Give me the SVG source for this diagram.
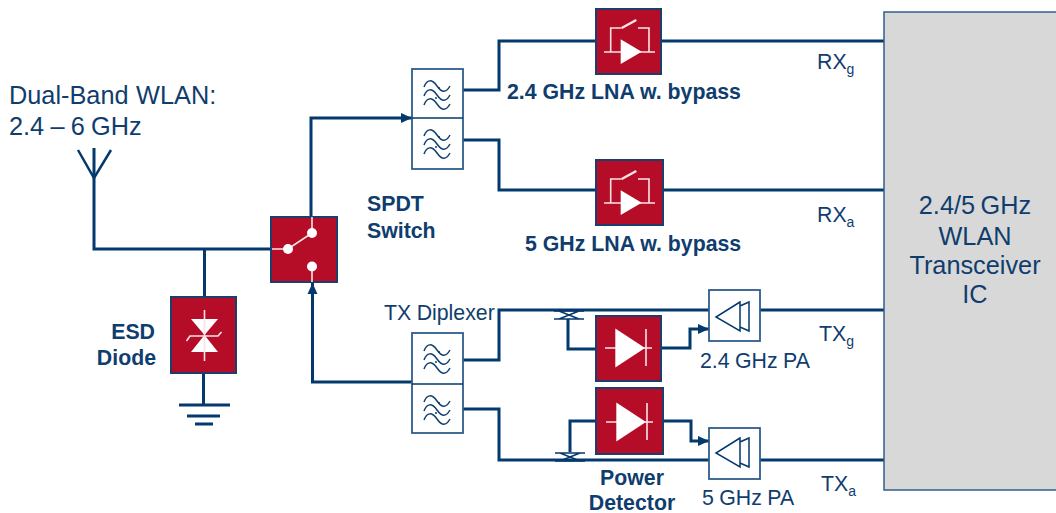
<svg xmlns="http://www.w3.org/2000/svg" width="1056" height="513" viewBox="0 0 1056 513">
<defs>
<style>
text{font-family:"Liberation Sans",Arial,sans-serif;fill:#0f3d6e}
.b{font-weight:700;font-size:21.300px}
.r{font-size:21.300px;word-spacing:-0.500px}
.h{font-size:25.300px;word-spacing:-1.500px}
.w{fill:none;stroke:#03396c;stroke-width:3}
.ant{fill:none;stroke:#03396c;stroke-width:2.500}
.t{fill:none;stroke:#03396c;stroke-width:1.500}
.red{fill:#b50d28;stroke:#1d3d6d;stroke-width:2}
.box{fill:#fff;stroke:#2f5d8c;stroke-width:1.800}
.wl{fill:none;stroke:#f8e4e6;stroke-width:1.600}
.sw{fill:none;stroke:#f8e4e6;stroke-width:2.500}
.wave{fill:none;stroke:#0f3d6e;stroke-width:1.500}
</style>
<marker id="arr" markerUnits="userSpaceOnUse" markerWidth="12" markerHeight="12" refX="11" refY="6" orient="auto"><path d="M0 1 L11 6 L0 11Z" fill="#03396c"/></marker>
<g id="waves"><path class="wave" d="M0 7C3-1 8-1 13 6S22 13 26 6"/><path class="wave" d="M0 16C3 8 8 8 13 15S22 22 26 15"/><path class="wave" d="M0 25C3 17 8 17 13 24S22 31 26 24"/><circle cx="15" cy="8" r="1" fill="#0f3d6e"/><circle cx="12" cy="18" r="1" fill="#0f3d6e"/></g>
<g id="lnaSym"><path class="wl" d="M4 52H55M10.700 52V28H21.700M38 28H49V52"/><path d="M20.700 39.300L41.700 51.700L20.700 64Z" fill="#fff"/><path class="sw" d="M21.700 28L36.300 20"/></g>
<g id="detSym"><path class="wl" d="M9 0H56M50-19V18"/><path d="M19.300-19.500L49 0L19.300 19.500Z" fill="#fff"/></g>
<g id="paSym"><path class="t" d="M31 12L7 27L31 41ZM31 16L40 12V41L31 37"/></g>
<path id="coupler" class="t" d="M-15 0H15M-15 8H15M-10 0L10 8M10 0L-10 8"/>
</defs>
<g id="connectors">
<path class="w" d="M94 148V249H271M204.500 249V297M203.500 373V405"/>
<path class="ant" d="M78 150L94 178L111 150"/>
<path class="w" d="M311 217V118H412" marker-end="url(#arr)"/>
<path class="w" d="M412 382H312.500V283" marker-end="url(#arr)"/>
<path class="w" d="M463 90H499V41H596M463 140H499V190H596M661 41H884M663 190H884"/>
<path class="w" d="M463 360H499V310H709M760 310H884M463 409H499V460H709M760 460H884"/>
<path class="w" d="M568 319V349H596M596 421H570V452"/>
<path class="w" d="M661 348H690V329H709" marker-end="url(#arr)"/>
<path class="w" d="M663 421H691V441H709" marker-end="url(#arr)"/>
</g>
<g id="ground"><path class="w" d="M179 405H230M187 416H220M195 424H213"/></g>
<g id="coupler1"><use href="#coupler" x="569" y="311"/></g>
<g id="coupler2"><use href="#coupler" x="570" y="453"/></g>
<g id="ic"><rect x="884" y="12" width="173" height="478" fill="#d8d8d8" stroke="#2f5d8c" stroke-width="1.500"/>
<g text-anchor="middle"><text class="h" x="975" y="214">2.4/5 GHz</text><text class="h" x="975" y="245">WLAN</text><text class="h" x="975" y="274">Transceiver</text><text class="h" x="975" y="303">IC</text></g></g>
<g id="switch"><rect class="red" x="271" y="217" width="66" height="65"/><path class="wl" d="M272 249H288L312 233V217M312 266V282"/><circle cx="288" cy="249" r="5" fill="#fff"/><circle cx="312" cy="233" r="5" fill="#fff"/><circle cx="312" cy="266.500" r="5" fill="#fff"/></g>
<g id="esd"><rect class="red" x="171" y="297" width="65" height="76"/><path d="M191 319H218L204.500 335ZM191 352H218L204.500 335Z" fill="#fff"/><path class="wl" d="M204.500 310V361M186.500 341L190 336H218L221.500 332"/></g>
<g id="diplexer-rx"><rect class="box" x="412" y="69" width="51" height="100"/><path class="t" d="M412 118H463"/><use href="#waves" x="424" y="80"/><use href="#waves" x="424" y="129"/></g>
<g id="diplexer-tx"><rect class="box" x="412" y="333" width="51" height="100"/><path class="t" d="M412 384H463"/><use href="#waves" x="424" y="344"/><use href="#waves" x="424" y="395"/></g>
<g id="lna1"><rect class="red" x="596" y="9" width="65" height="65"/><use href="#lnaSym" x="600"/></g>
<g id="lna2"><rect class="red" x="596" y="160" width="67" height="65"/><use href="#lnaSym" x="600" y="151"/></g>
<g id="det1"><rect class="red" x="596" y="316" width="65" height="65"/><use href="#detSym" x="596" y="348"/></g>
<g id="det2"><rect class="red" x="596" y="388" width="67" height="66"/><use href="#detSym" x="597" y="422"/></g>
<g id="pa1"><rect class="box" x="709" y="290" width="51" height="51"/><use href="#paSym" x="709" y="290"/></g>
<g id="pa2"><rect class="box" x="709" y="428" width="51" height="51"/><use href="#paSym" x="709" y="426"/></g>
<g id="labels">
<text class="h" x="9" y="104" style="word-spacing:0.500px">Dual-Band WLAN:</text>
<text class="h" x="9" y="135" style="word-spacing:-0.800px">2.4 – 6 GHz</text>
<text class="b" x="155" y="339" text-anchor="end">ESD</text>
<text class="b" x="156" y="365" text-anchor="end">Diode</text>
<text class="b" x="367" y="211">SPDT</text>
<text class="b" x="367" y="238">Switch</text>
<text class="b" x="507" y="99">2.4 GHz LNA w. bypass</text>
<text class="b" x="525" y="251">5 GHz LNA w. bypass</text>
<text class="r" x="384" y="320">TX Diplexer</text>
<text class="r" x="700" y="368">2.4 GHz PA</text>
<text class="r" x="702" y="505">5 GHz PA</text>
<text class="b" x="632" y="485" text-anchor="middle">Power</text>
<text class="b" x="632" y="510" text-anchor="middle">Detector</text>
<text class="r" x="817" y="69">RX<tspan font-size="14" dy="5">g</tspan></text>
<text class="r" x="817" y="222">RX<tspan font-size="14" dy="5">a</tspan></text>
<text class="r" x="819" y="341">TX<tspan font-size="14" dy="5">g</tspan></text>
<text class="r" x="821" y="491">TX<tspan font-size="14" dy="5">a</tspan></text>
</g>
</svg>
